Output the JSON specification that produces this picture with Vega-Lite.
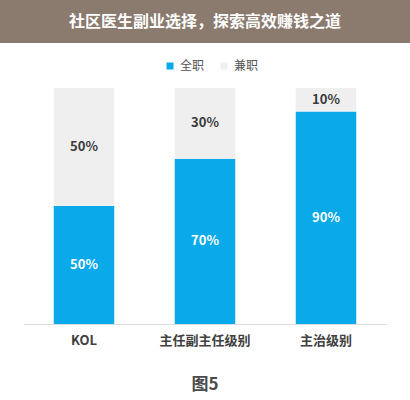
{
  "$schema": "https://vega.github.io/schema/vega-lite/v6.json",
  "padding": {"left": 0, "right": 0, "top": 0, "bottom": 6},
  "background": "white",
  "config": {"font": "Noto Sans CJK SC"},
  "spacing": 45,
  "center": true,
  "vconcat": [
    {
      "width": 410,
      "height": 43,
      "view": {"fill": "#8b7b6e", "stroke": null},
      "data": {"values": [{"t": "社区医生副业选择，探索高效赚钱之道"}]},
      "mark": {"type": "text", "font": "Noto Sans CJK SC", "fontWeight": "bold", "fontSize": 16, "color": "white"},
      "encoding": {"text": {"field": "t"}}
    },
    {
      "width": 363,
      "height": 236,
      "view": {"stroke": null},
      "title": {"text": "图5", "orient": "bottom", "fontSize": 17, "fontWeight": "bold", "color": "#4a4a4a", "offset": 30, "font": "Noto Sans CJK SC"},
      "data": {"values": [
        {"cat": "KOL", "type": "全职", "value": 0.5},
        {"cat": "KOL", "type": "兼职", "value": 0.5},
        {"cat": "主任副主任级别", "type": "全职", "value": 0.7},
        {"cat": "主任副主任级别", "type": "兼职", "value": 0.3},
        {"cat": "主治级别", "type": "全职", "value": 0.9},
        {"cat": "主治级别", "type": "兼职", "value": 0.1}
      ]},
      "transform": [
        {"stack": "value", "groupby": ["cat"], "as": ["v0", "v1"], "sort": [{"field": "type", "order": "ascending"}]},
        {"calculate": "(datum.v0 + datum.v1) / 2", "as": "mid"}
      ],
      "encoding": {
        "x": {"field": "cat", "type": "nominal", "sort": null,
              "scale": {"paddingInner": 0.5, "paddingOuter": 0.25},
              "axis": {"title": null, "labelAngle": 0, "labelFontSize": 13, "labelFontWeight": "bold", "labelColor": "#404040", "ticks": false, "domainColor": "#dcdcdc", "labelPadding": 10}}
      },
      "layer": [
        {
          "mark": {"type": "bar"},
          "encoding": {
            "y": {"field": "v0", "type": "quantitative", "scale": {"domain": [0, 1]}, "axis": null},
            "y2": {"field": "v1"},
            "color": {"field": "type", "type": "nominal",
                      "scale": {"domain": ["全职", "兼职"], "range": ["#0aa9e9", "#efefef"]},
                      "legend": {"orient": "none", "legendX": 164, "legendY": 60, "direction": "horizontal", "title": null,
                                 "symbolType": "square", "symbolSize": 49, "labelFontSize": 12, "labelColor": "#555555",
                                 "labelOffset": 4, "columnPadding": 13, "symbolStrokeWidth": 0}}
          }
        },
        {
          "mark": {"type": "text", "fontSize": 13, "fontWeight": "bold", "font": "Noto Sans CJK SC"},
          "encoding": {
            "y": {"field": "mid", "type": "quantitative"},
            "text": {"field": "value", "type": "quantitative", "format": ".0%"},
            "color": {"condition": {"test": "datum.type === '全职'", "value": "#ffffff"}, "value": "#3a3a3a"}
          }
        }
      ]
    }
  ]
}
